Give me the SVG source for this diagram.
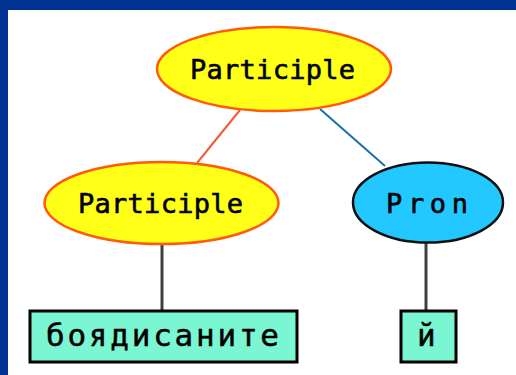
<svg xmlns="http://www.w3.org/2000/svg" width="516" height="375" viewBox="0 0 516 375">
  <defs>
    <style>
      .frame { fill: #003391; }
      .cat { fill: #ffff18; stroke: #ff5a10; stroke-width: 2.5; }
      .pron { fill: #22c8ff; stroke: #101010; stroke-width: 2.5; }
      .word { fill: #7af7d2; stroke: #000000; stroke-width: 3; }
      .lbl { font-family: "DejaVu Sans Mono", "Liberation Mono", monospace; font-size: 27px; fill: #000000; stroke: #000000; stroke-width: 0.6; }
      .cyr { font-family: "DejaVu Sans Mono", "Liberation Mono", monospace; font-size: 31px; fill: #000000; stroke: #000000; stroke-width: 0.5; }
      .e-red { stroke: #f05a3c; stroke-width: 2; fill: none; }
      .e-blue { stroke: #1a70a8; stroke-width: 2; fill: none; }
      .e-lex { stroke: #404040; stroke-width: 3; fill: none; }
    </style>
  </defs>

  <!-- background and frame -->
  <rect x="0" y="0" width="516" height="375" fill="#ffffff"/>
  <rect class="frame" x="0" y="0" width="516" height="10"/>
  <rect class="frame" x="0" y="0" width="8" height="375"/>

  <!-- connectors -->
  <g id="edges">
    <line class="e-red" x1="240" y1="110" x2="197" y2="163"/>
    <line class="e-blue" x1="320" y1="109" x2="385" y2="166"/>
    <line class="e-lex" x1="162" y1="244" x2="162" y2="310"/>
    <line class="e-lex" x1="426" y1="243" x2="426" y2="310"/>
  </g>

  <g id="participle-root">
    <ellipse class="cat" cx="274" cy="69" rx="117" ry="42"/>
    <text class="lbl" x="190" y="79" textLength="165" lengthAdjust="spacing">Participle</text>
  </g>

  <g id="participle-child">
    <ellipse class="cat" cx="161.5" cy="203" rx="117" ry="41"/>
    <text class="lbl" x="78" y="213" textLength="165" lengthAdjust="spacing">Participle</text>
  </g>

  <g id="pron">
    <ellipse class="pron" cx="428" cy="202.5" rx="75" ry="40"/>
    <text class="lbl" x="386" y="213" textLength="82" lengthAdjust="spacing">Pron</text>
  </g>

  <g id="word-boyadisanite">
    <rect class="word" x="30" y="311" width="267" height="51"/>
    <text class="cyr" x="46" y="346" textLength="233" lengthAdjust="spacing">боядисаните</text>
  </g>

  <g id="word-y">
    <rect class="word" x="401" y="311" width="55" height="51"/>
    <text class="cyr" x="417" y="346">й</text>
  </g>
</svg>
